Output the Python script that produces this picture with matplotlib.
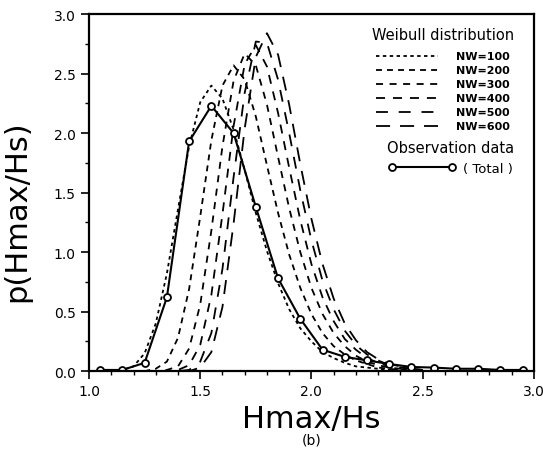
import matplotlib
matplotlib.use('Agg')
import matplotlib.pyplot as plt
from matplotlib.lines import Line2D
from matplotlib.ticker import MultipleLocator

# Weibull curves, x = Hmax/Hs
wx = [1.10, 1.15, 1.20, 1.25, 1.30, 1.35, 1.40, 1.45, 1.50, 1.55,
      1.60, 1.65, 1.70, 1.75, 1.80, 1.85, 1.90, 1.95, 2.00, 2.05,
      2.10, 2.15, 2.20, 2.25, 2.30, 2.35, 2.40, 2.45, 2.50]
nw100 = [0.00, 0.01, 0.04, 0.15, 0.40, 0.82, 1.36, 1.89, 2.26, 2.40,
         2.29, 2.03, 1.69, 1.33, 1.01, 0.74, 0.52, 0.36, 0.25, 0.16,
         0.11, 0.07, 0.04, 0.03, 0.02, 0.01, 0.01, 0.00, 0.00]
nw200 = [0.00, 0.00, 0.00, 0.00, 0.02, 0.08, 0.28, 0.69, 1.30, 1.94,
         2.40, 2.57, 2.45, 2.14, 1.73, 1.33, 0.98, 0.70, 0.48, 0.32,
         0.21, 0.14, 0.09, 0.06, 0.03, 0.02, 0.01, 0.01, 0.00]
nw300 = [0.00, 0.00, 0.00, 0.00, 0.00, 0.01, 0.04, 0.19, 0.56, 1.18,
         1.89, 2.44, 2.67, 2.57, 2.24, 1.80, 1.37, 1.00, 0.70, 0.48,
         0.32, 0.21, 0.13, 0.08, 0.05, 0.03, 0.02, 0.01, 0.01]
nw400 = [0.00, 0.00, 0.00, 0.00, 0.00, 0.00, 0.01, 0.05, 0.22, 0.64,
         1.32, 2.06, 2.58, 2.74, 2.56, 2.17, 1.71, 1.27, 0.90, 0.62,
         0.42, 0.27, 0.18, 0.11, 0.07, 0.04, 0.03, 0.02, 0.01]
nw500 = [0.00, 0.00, 0.00, 0.00, 0.00, 0.00, 0.00, 0.01, 0.08, 0.32,
         0.86, 1.63, 2.34, 2.77, 2.76, 2.45, 2.00, 1.52, 1.10, 0.76,
         0.52, 0.34, 0.22, 0.14, 0.09, 0.05, 0.03, 0.02, 0.01]
nw600 = [0.00, 0.00, 0.00, 0.00, 0.00, 0.00, 0.00, 0.00, 0.03, 0.16,
         0.54, 1.24, 2.04, 2.64, 2.84, 2.66, 2.24, 1.74, 1.28, 0.90,
         0.61, 0.40, 0.26, 0.16, 0.10, 0.06, 0.04, 0.02, 0.01]

# observation data (Total)
obs_x = [1.05, 1.15, 1.25, 1.35, 1.45, 1.55, 1.65, 1.75, 1.85, 1.95,
         2.05, 2.15, 2.25, 2.35, 2.45, 2.55, 2.65, 2.75, 2.85, 2.95]
obs_y = [0.01, 0.01, 0.07, 0.62, 1.93, 2.23, 2.00, 1.38, 0.78, 0.44,
         0.18, 0.12, 0.09, 0.06, 0.035, 0.03, 0.02, 0.02, 0.01, 0.01]

labels = ['NW=100', 'NW=200', 'NW=300', 'NW=400', 'NW=500', 'NW=600']
dashes = [(1.9, 1.9), (3.3, 2.8), (3.9, 3.6), (5.0, 4.4), (6.6, 6.0), (7.8, 5.5)]

fig = plt.figure(figsize=(5.43, 4.6), dpi=100)
ax = fig.add_axes([0.164, 0.191, 0.819, 0.776])

curves = [nw100, nw200, nw300, nw400, nw500, nw600]
handles = []
for ys, d in zip(curves, dashes):
    ax.plot(wx, ys, color='black', lw=1.3, dashes=d)
    handles.append(Line2D([], [], color='black', lw=1.3, dashes=d))

ax.plot(obs_x, obs_y, color='black', lw=1.5, marker='o', markersize=5,
        markerfacecolor='white', markeredgewidth=1.3)

ax.set_xlim(1.0, 3.0)
ax.set_ylim(0.0, 3.0)
ax.xaxis.set_major_locator(MultipleLocator(0.5))
ax.xaxis.set_minor_locator(MultipleLocator(0.1))
ax.yaxis.set_major_locator(MultipleLocator(0.5))
ax.yaxis.set_minor_locator(MultipleLocator(0.25))
ax.xaxis.set_major_formatter(plt.FormatStrFormatter('%.1f'))
ax.yaxis.set_major_formatter(plt.FormatStrFormatter('%.1f'))
ax.tick_params(which='major', direction='out', length=6, width=1.2, labelsize=10)
ax.tick_params(which='minor', direction='out', length=3, width=1.0)
for s in ax.spines.values():
    s.set_linewidth(1.6)

ax.set_xlabel('Hmax/Hs', fontsize=22, labelpad=4)
ax.set_ylabel('p(Hmax/Hs)', fontsize=22)
ax.yaxis.set_label_coords(-0.13, 0.45)
fig.text(0.574, 0.043, '(b)', ha='center', va='center', fontsize=10)

leg1 = ax.legend(handles, labels, title='Weibull distribution', loc='upper right',
                 bbox_to_anchor=(0.955, 0.965), frameon=False,
                 prop={'size': 8, 'weight': 'bold'},
                 title_fontsize=10.5, handlelength=5.6, handletextpad=1.6,
                 labelspacing=0.36, borderaxespad=0, borderpad=0)
leg1._legend_box.sep = 7
ax.add_artist(leg1)
obs_h = Line2D([], [], color='black', lw=1.5, marker='o', markersize=5,
               markerfacecolor='white', markeredgewidth=1.3)
leg2 = ax.legend([obs_h], ['( Total )'], title='Observation data', loc='upper right',
                 bbox_to_anchor=(0.955, 0.648), frameon=False, fontsize=9.5,
                 title_fontsize=10.5, numpoints=2, handlelength=5.2, handletextpad=0.5,
                 borderaxespad=0, borderpad=0)
leg2._legend_box.sep = 5

fig.savefig('out.png', dpi=100)
